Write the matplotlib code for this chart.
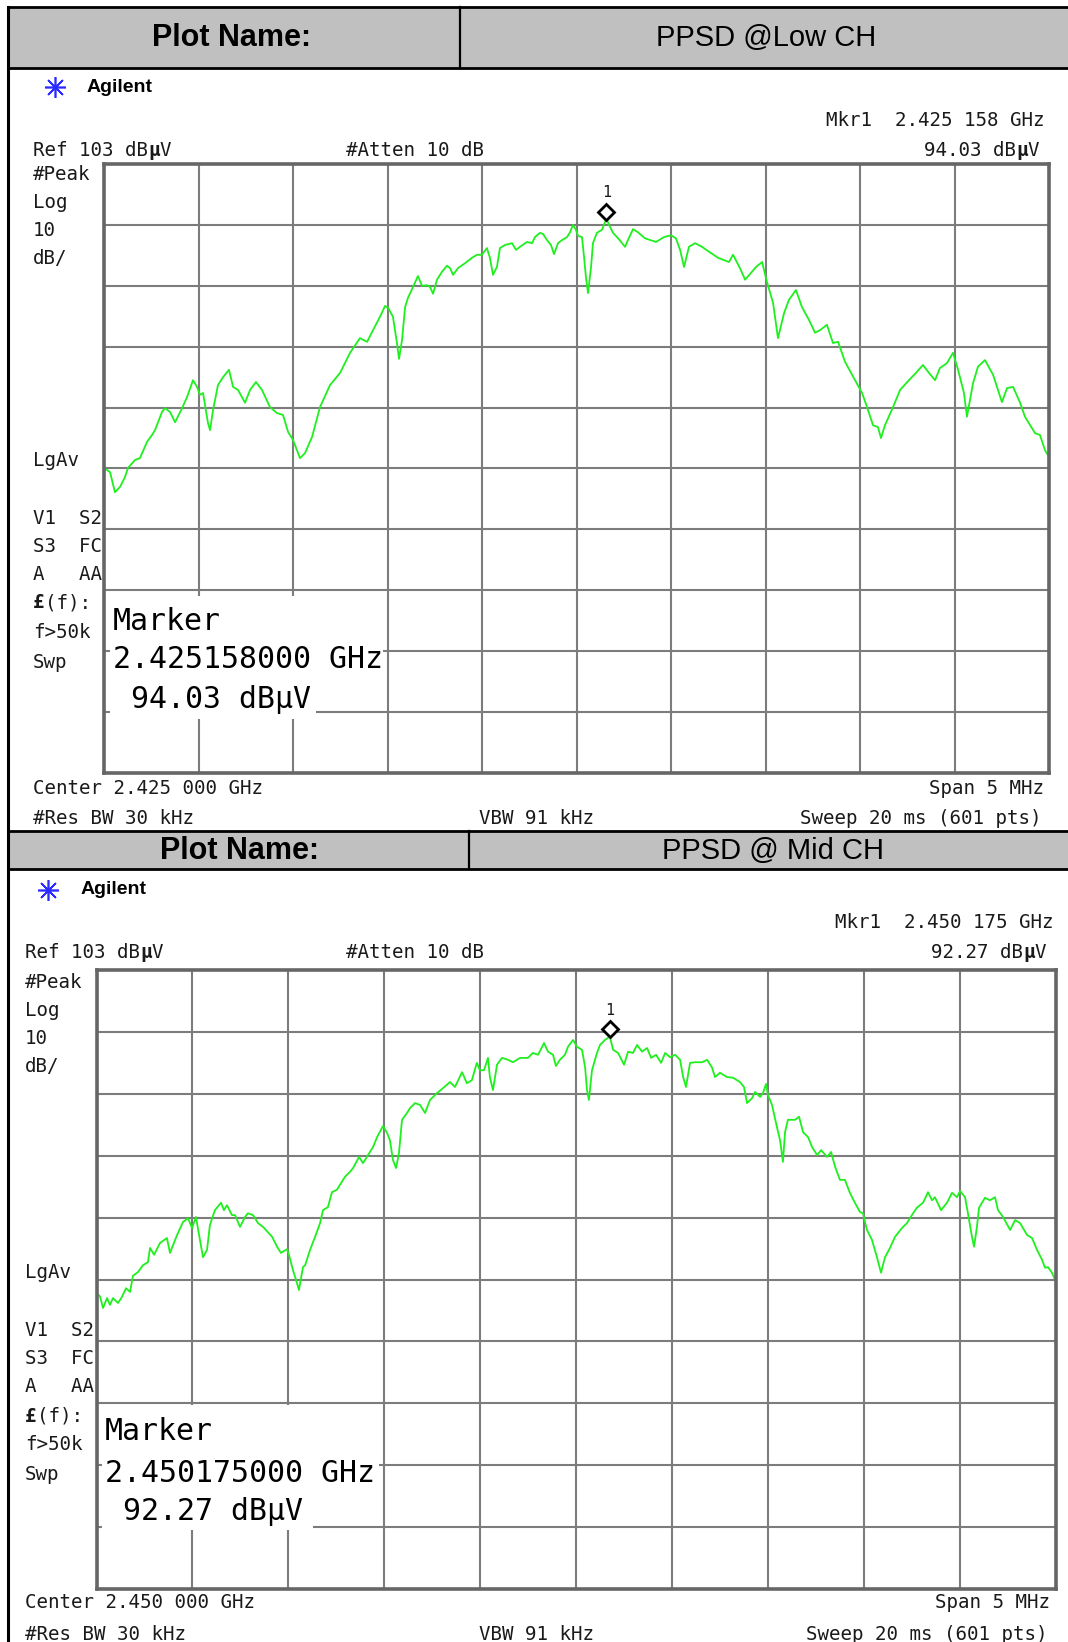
import matplotlib
matplotlib.use("Agg")
import matplotlib.pyplot as plt
from matplotlib.patches import Rectangle
from matplotlib.transforms import offset_copy
import numpy as np

W, H = 1068, 1642

# ---- data ----
# frequency offset from centre (MHz) and level (dBuV)
low_offset_mhz = [-2.500, -2.468, -2.442, -2.415, -2.389, -2.373, -2.336, -2.310, -2.272, -2.246,
                  -2.230, -2.193, -2.177, -2.151, -2.124, -2.087, -2.061, -2.029, -2.008, -1.992,
                  -1.976, -1.950, -1.939, -1.923, -1.897, -1.870, -1.839, -1.817, -1.791, -1.754,
                  -1.727, -1.696, -1.664, -1.622, -1.585, -1.553, -1.526, -1.500, -1.463, -1.437,
                  -1.399, -1.357, -1.304, -1.251, -1.198, -1.146, -1.108, -1.077, -1.040, -1.013,
                  -0.997, -0.971, -0.950, -0.939, -0.923, -0.907, -0.892, -0.865, -0.839, -0.817,
                  -0.791, -0.775, -0.759, -0.738, -0.712, -0.685, -0.669, -0.653, -0.627, -0.590,
                  -0.553, -0.526, -0.500, -0.474, -0.458, -0.442, -0.421, -0.405, -0.378, -0.341,
                  -0.320, -0.299, -0.262, -0.235, -0.220, -0.193, -0.177, -0.156, -0.135, -0.119,
                  -0.098, -0.077, -0.050, -0.034, -0.019, -0.003, 0.008, 0.029, 0.040, 0.050,
                  0.061, 0.077, 0.087, 0.108, 0.135, 0.158, 0.177, 0.193, 0.220, 0.257,
                  0.272, 0.299, 0.325, 0.362, 0.421, 0.463, 0.500, 0.526, 0.548, 0.569,
                  0.595, 0.627, 0.664, 0.701, 0.749, 0.807, 0.828, 0.865, 0.892, 0.923,
                  0.950, 0.982, 1.008, 1.040, 1.066, 1.098, 1.124, 1.161, 1.193, 1.230,
                  1.262, 1.288, 1.325, 1.357, 1.384, 1.421, 1.474, 1.511, 1.537, 1.569,
                  1.595, 1.611, 1.632, 1.675, 1.712, 1.759, 1.796, 1.833, 1.865, 1.897,
                  1.923, 1.960, 1.992, 2.019, 2.050, 2.066, 2.098, 2.124, 2.161, 2.204,
                  2.251, 2.278, 2.310, 2.347, 2.373, 2.426, 2.452, 2.479, 2.500]
low_level = [53.1, 52.4, 49.1, 50.0, 51.6, 53.1, 54.4, 54.7, 57.4, 58.5,
             59.3, 62.3, 62.9, 62.3, 60.6, 62.9, 64.7, 67.5, 66.4, 65.1,
             65.4, 60.5, 59.3, 62.6, 66.7, 68.0, 69.2, 66.4, 65.9, 63.8,
             65.9, 67.2, 65.9, 63.1, 62.1, 61.8, 59.0, 57.7, 54.7, 55.5,
             58.2, 63.1, 66.7, 68.7, 72.0, 74.4, 73.8, 75.7, 77.9, 79.7,
             79.4, 77.9, 73.6, 71.0, 74.1, 79.5, 81.0, 82.8, 84.6, 83.0,
             83.1, 82.8, 81.7, 84.0, 85.3, 86.3, 85.9, 84.8, 85.9, 86.7,
             87.6, 88.1, 88.1, 89.2, 87.6, 84.8, 86.1, 89.2, 89.7, 90.0,
             88.9, 89.4, 90.2, 90.0, 91.0, 91.7, 91.5, 90.5, 89.7, 88.2,
             90.0, 90.5, 91.0, 91.8, 93.0, 92.2, 91.2, 91.0, 87.7, 84.4,
             81.8, 86.1, 90.0, 91.7, 92.2, 94.03, 92.7, 91.7, 90.8, 89.4,
             90.5, 92.3, 91.8, 90.8, 90.2, 91.0, 91.3, 90.8, 88.9, 86.1,
             89.4, 90.0, 89.4, 88.6, 87.6, 86.9, 88.1, 85.9, 84.0, 85.1,
             86.1, 86.9, 83.6, 80.2, 74.4, 78.5, 80.7, 82.3, 79.5, 77.4,
             75.3, 75.7, 76.6, 73.6, 73.8, 70.5, 67.5, 65.4, 63.1, 60.1,
             59.8, 58.0, 60.1, 63.1, 65.9, 67.5, 68.7, 70.0, 68.7, 67.5,
             69.5, 70.3, 72.0, 69.2, 65.4, 61.5, 67.0, 69.7, 70.8, 68.4,
             63.9, 66.2, 66.4, 63.8, 61.5, 58.8, 58.5, 56.0, 54.9]

mid_offset_mhz = [-2.500, -2.482, -2.466, -2.445, -2.430, -2.414, -2.388, -2.367, -2.346, -2.325,
                  -2.310, -2.284, -2.258, -2.232, -2.221, -2.200, -2.169, -2.133, -2.117, -2.080,
                  -2.049, -2.023, -2.002, -1.982, -1.961, -1.945, -1.924, -1.909, -1.883, -1.851,
                  -1.836, -1.820, -1.794, -1.778, -1.752, -1.726, -1.711, -1.684, -1.658, -1.632,
                  -1.585, -1.559, -1.539, -1.507, -1.497, -1.476, -1.455, -1.445, -1.424, -1.413,
                  -1.387, -1.361, -1.335, -1.320, -1.294, -1.273, -1.247, -1.205, -1.179, -1.163,
                  -1.132, -1.111, -1.085, -1.059, -1.038, -1.007, -0.986, -0.971, -0.955, -0.939,
                  -0.924, -0.908, -0.882, -0.866, -0.840, -0.814, -0.788, -0.762, -0.726, -0.695,
                  -0.658, -0.632, -0.595, -0.570, -0.544, -0.518, -0.502, -0.481, -0.460, -0.450,
                  -0.434, -0.413, -0.387, -0.356, -0.330, -0.293, -0.252, -0.226, -0.199, -0.168,
                  -0.147, -0.121, -0.106, -0.085, -0.059, -0.043, -0.017, 0.004, 0.030, 0.046,
                  0.056, 0.066, 0.082, 0.108, 0.124, 0.150, 0.175, 0.192, 0.218, 0.249,
                  0.270, 0.296, 0.317, 0.343, 0.369, 0.390, 0.416, 0.442, 0.463, 0.489,
                  0.515, 0.541, 0.557, 0.572, 0.593, 0.619, 0.656, 0.682, 0.708, 0.723,
                  0.749, 0.786, 0.817, 0.853, 0.874, 0.890, 0.916, 0.932, 0.958, 0.973,
                  0.989, 0.999, 1.020, 1.046, 1.062, 1.077, 1.088, 1.103, 1.140, 1.161,
                  1.182, 1.208, 1.229, 1.255, 1.276, 1.307, 1.328, 1.349, 1.374, 1.400,
                  1.426, 1.452, 1.479, 1.494, 1.515, 1.541, 1.567, 1.588, 1.609, 1.635,
                  1.661, 1.697, 1.723, 1.749, 1.775, 1.807, 1.833, 1.854, 1.869, 1.901,
                  1.932, 1.958, 1.984, 2.000, 2.026, 2.041, 2.062, 2.073, 2.088, 2.099,
                  2.130, 2.156, 2.182, 2.198, 2.224, 2.261, 2.287, 2.313, 2.349, 2.375,
                  2.401, 2.427, 2.443, 2.458, 2.479, 2.500]
mid_level = [50.8, 50.3, 48.4, 50.0, 48.9, 50.0, 49.2, 50.2, 51.6, 51.0,
             53.6, 54.2, 55.3, 55.8, 58.1, 57.0, 58.9, 59.7, 57.3, 60.2,
             62.3, 62.9, 61.3, 63.1, 59.4, 56.6, 57.8, 61.8, 64.2, 65.4,
             64.2, 65.0, 63.4, 63.4, 61.5, 63.1, 63.7, 63.4, 62.1, 61.5,
             59.9, 58.3, 57.3, 57.9, 57.0, 54.5, 52.4, 51.3, 55.0, 55.3,
             57.8, 59.9, 62.1, 64.2, 64.7, 67.1, 67.5, 69.6, 70.4, 71.0,
             72.8, 71.8, 73.1, 74.4, 76.0, 77.8, 76.7, 75.5, 72.3, 71.0,
             73.4, 78.8, 79.9, 80.7, 81.5, 81.2, 79.9, 82.0, 83.1, 83.9,
             84.9, 84.1, 86.5, 84.7, 85.2, 88.0, 86.8, 86.8, 88.8, 85.7,
             83.6, 87.7, 88.8, 88.5, 88.1, 88.8, 88.8, 89.6, 89.3, 91.2,
             89.8, 89.3, 87.5, 88.5, 89.3, 90.6, 91.7, 90.6, 90.1, 87.3,
             83.6, 82.0, 86.8, 89.6, 90.9, 91.7, 92.27, 90.1, 89.6, 87.7,
             89.8, 89.6, 90.9, 89.8, 90.4, 88.8, 89.3, 88.0, 89.6, 88.9,
             89.3, 88.5, 85.7, 84.1, 88.0, 88.1, 88.1, 88.5, 87.2, 85.7,
             86.4, 85.7, 85.6, 84.9, 84.1, 81.5, 82.3, 83.3, 82.5, 83.1,
             84.6, 82.8, 81.2, 77.6, 75.5, 72.0, 76.8, 78.8, 78.8, 79.3,
             76.8, 76.0, 74.4, 73.1, 73.9, 72.8, 73.6, 71.2, 69.1, 69.1,
             67.0, 65.4, 63.9, 63.7, 61.0, 59.4, 56.6, 54.1, 56.6, 58.1,
             59.9, 61.3, 62.1, 63.4, 64.6, 65.4, 67.1, 65.8, 66.3, 64.2,
             65.4, 67.0, 66.3, 67.3, 66.3, 63.7, 59.9, 58.3, 61.5, 64.6,
             66.2, 65.8, 66.3, 64.2, 63.1, 61.0, 62.6, 62.1, 60.2, 59.7,
             57.8, 56.2, 54.9, 55.0, 54.1, 52.6]

ref_level = 103
db_per_div = 10
span_mhz = 5
low_marker = (0.158, 94.03)
mid_marker = (0.175, 92.27)

TXT = '#1a1a1a'
MONO = 'DejaVu Sans Mono'
SANS = 'Liberation Sans'
SMALL = 13.8
BIG = 21.5


def adv(size):
    # advance of one DejaVu Sans Mono glyph in pixels
    return size / 72 * 100 * 0.602


fig = plt.figure(figsize=(W / 100, H / 100), dpi=100)
bg = fig.add_axes([0, 0, 1, 1])
bg.set_xlim(0, W)
bg.set_ylim(H, 0)
bg.axis('off')


def mono(x, y, parts, ha='left', size=SMALL):
    if isinstance(parts, str):
        parts = [(parts, False)]
    total = sum(len(s) for s, b in parts)
    if ha == 'right':
        x = x - total * adv(size)
    for s, b in parts:
        bg.text(x, y, s, family=MONO, fontsize=size, color=TXT, va='center', ha='left',
                fontweight='bold' if b else 'normal')
        x += len(s) * adv(size)


def panel(cfg, offs, levels, marker, center_ghz):
    h0, h1 = cfg['hdr']
    bg.add_patch(Rectangle((8, h0), W - 8, h1 - h0, facecolor='#c0c0c0', edgecolor='none'))
    bg.plot([8, W], [h0, h0], color='black', lw=2)
    bg.plot([8, W], [h1, h1], color='black', lw=2)
    bg.plot([cfg['div'], cfg['div']], [h0, h1], color='black', lw=1.6)
    bg.text(cfg['pn_x'], (h0 + h1) / 2 + 1, 'Plot Name:', family=SANS, fontsize=22,
            fontweight='bold', ha='center', va='center', color='black')
    bg.text(cfg['name_x'], (h0 + h1) / 2 + 1, cfg['name'], family=SANS, fontsize=21,
            ha='center', va='center', color='black')

    # Agilent logo + name
    lx, ly = cfg['logo']
    bg.plot([lx], [ly], marker=(8, 2, 0), ms=15, mew=1.2, color='#2b2bff')
    bg.plot([lx], [ly], marker='o', ms=3, color='#2b2bff')
    bg.text(cfg['ag_x'], ly, 'Agilent', family=SANS, fontsize=14, fontweight='bold',
            va='center', ha='left', color='black')

    ghz = center_ghz + marker[0] / 1000
    f6 = '%.6f' % ghz
    mono(cfg['mkr_r'], cfg['mkr_y'], 'Mkr1  %s %s GHz' % (f6[:5], f6[5:]), ha='right')
    mono(cfg['ref_x'], cfg['ref_y'], [('Ref %d dB' % ref_level, False), ('µ', True), ('V', False)])
    mono(cfg['att_x'], cfg['ref_y'], '#Atten 10 dB')
    mono(cfg['lvl_r'], cfg['ref_y'], [('%.2f dB' % marker[1], False), ('µ', True), ('V', False)],
         ha='right')

    labels = ['#Peak', 'Log', '10', 'dB/', 'LgAv', 'V1  S2', 'S3  FC', 'A   AA', None, 'f>50k', 'Swp']
    for lab, yy in zip(labels, cfg['left_y']):
        if lab is None:
            mono(cfg['ref_x'], yy, [('£', True), ('(f):', False)])
        else:
            mono(cfg['ref_x'], yy, lab)

    mono(cfg['ref_x'], cfg['bot_y'][0], 'Center %.3f 000 GHz' % center_ghz)
    mono(cfg['span_r'], cfg['bot_y'][0], 'Span %d MHz' % span_mhz, ha='right')
    mono(cfg['ref_x'], cfg['bot_y'][1], '#Res BW 30 kHz')
    mono(cfg['vbw_x'], cfg['bot_y'][1], 'VBW 91 kHz')
    mono(cfg['span_r'] - 2, cfg['bot_y'][1], 'Sweep 20 ms (601 pts)', ha='right')

    # spectrum screen
    x0, y0, x1, y1 = cfg['box']
    ax = fig.add_axes([x0 / W, 1 - y1 / H, (x1 - x0) / W, (y1 - y0) / H])
    ax.set_xlim(-span_mhz / 2, span_mhz / 2)
    ax.set_ylim(ref_level - 10 * db_per_div, ref_level)
    ax.set_xticks(np.linspace(-span_mhz / 2, span_mhz / 2, 11))
    ax.set_yticks(np.arange(ref_level - 10 * db_per_div, ref_level + 1, db_per_div))
    ax.set_axisbelow(True)
    ax.grid(True, color='#7c7c7c', lw=1.5)
    ax.tick_params(length=0, labelbottom=False, labelleft=False)
    for s in ax.spines.values():
        s.set_color('#666666')
        s.set_linewidth(2.6)
    ax.plot(offs, levels, color='#1ef01e', lw=1.3, zorder=2)

    mk = offset_copy(ax.transData, fig=fig, x=0, y=7, units='dots')
    ax.plot([marker[0]], [marker[1]], marker='D', ms=8, mfc='white', mec='black',
            mew=2, transform=mk, zorder=5, clip_on=False)
    ax.annotate('1', (marker[0], marker[1]), xytext=(0, 19), textcoords='offset points',
                ha='center', va='center', family=MONO, fontsize=11, color=TXT)

    # marker readout block
    for (rx0, ry0, rx1, ry1) in cfg['rects']:
        ax.add_patch(Rectangle((rx0, ry0), rx1 - rx0, ry1 - ry0, transform=bg.transData,
                               facecolor='white', edgecolor='none', zorder=3, clip_on=False))
    lines = ['Marker', '%.9f GHz' % ghz, ' %.2f dBµV' % marker[1]]
    for txt, yy in zip(lines, cfg['ro_y']):
        ax.text(cfg['ro_x'], yy, txt, transform=bg.transData, family=MONO, fontsize=BIG,
                color='black', va='center', ha='left', zorder=4)


low_cfg = dict(hdr=(7, 68), div=460, pn_x=232, name_x=766, name='PPSD @Low CH',
               logo=(55, 87), ag_x=87, mkr_r=1045, mkr_y=120,
               ref_x=33, ref_y=150, att_x=346, lvl_r=1039,
               left_y=[175, 203, 231, 259, 461, 518, 547, 575, 603, 633, 662],
               bot_y=[789, 819], span_r=1044, vbw_x=479,
               box=(104, 164, 1049, 773),
               rects=[(110, 596, 383, 700), (110, 700, 316, 719)],
               ro_x=113, ro_y=[621, 659, 699])

mid_cfg = dict(hdr=(831, 869), div=469, pn_x=239, name_x=773, name='PPSD @ Mid CH',
               logo=(48, 890), ag_x=81, mkr_r=1054, mkr_y=922,
               ref_x=25, ref_y=953, att_x=346, lvl_r=1046,
               left_y=[982, 1010, 1039, 1067, 1272, 1330, 1359, 1387, 1416, 1445, 1474],
               bot_y=[1603, 1634], span_r=1050, vbw_x=479,
               box=(96.5, 970, 1056, 1589),
               rects=[(102, 1405, 379, 1509), (102, 1509, 313, 1530)],
               ro_x=105, ro_y=[1431, 1473, 1511])

panel(low_cfg, low_offset_mhz, low_level, low_marker, 2.425)
panel(mid_cfg, mid_offset_mhz, mid_level, mid_marker, 2.450)

# outer left border of the report page
bg.plot([8, 8], [7, H], color='black', lw=2.2)

fig.savefig('out.png', dpi=100, facecolor='white')
